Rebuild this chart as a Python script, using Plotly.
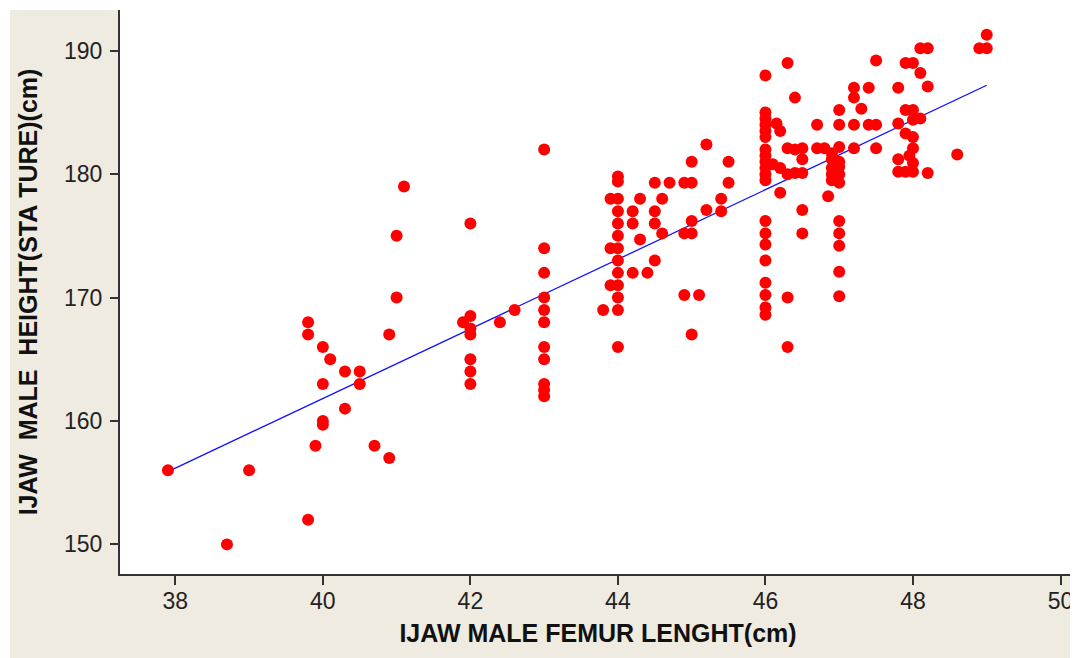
import plotly.graph_objects as go

# ---- data ----
femur = [
    37.9, 38.7, 39.0, 39.8, 39.9, 40.0, 40.0, 40.3, 40.0, 40.3, 40.5, 40.5, 40.1, 40.0, 39.8, 39.8,
    40.7, 40.9, 40.9, 41.0, 41.0, 41.1,
    42.0, 42.0, 41.9, 42.0, 42.0, 42.0, 42.0, 42.0, 42.4, 42.6,
    43.0, 43.0, 43.0, 43.0, 43.0, 43.0, 43.0, 43.0, 43.0, 43.0, 43.0, 43.8,
    44.0, 44.0, 44.0, 44.0, 44.0, 44.0, 44.0, 44.0, 44.0, 44.0, 44.0, 44.0, 44.0,
    43.9, 43.9, 43.9, 44.2, 44.2, 44.2, 44.3, 44.3, 44.4,
    44.5, 44.5, 44.5, 44.5, 44.6, 44.6, 44.7,
    44.9, 44.9, 44.9, 45.0, 45.0, 45.0, 45.0, 45.0, 45.1,
    45.2, 45.2, 45.4, 45.4, 45.5, 45.5,
    46.0, 46.0, 46.0, 46.0, 46.0, 46.0, 46.0, 46.0, 46.0, 46.0, 46.0, 46.0,
    46.0, 46.0, 46.0, 46.0, 46.0, 46.0, 46.0, 46.0,
    46.15, 46.2, 46.1, 46.2, 46.3, 46.3, 46.4, 46.2, 46.3, 46.3, 46.3,
    46.4, 46.5, 46.5, 46.5, 46.4, 46.5, 46.5,
    46.7, 46.7, 46.8, 46.9, 46.9, 46.9, 46.9, 46.9, 46.85,
    47.0, 47.0, 47.0, 47.0, 47.0, 47.0, 47.0,
    47.0, 47.0, 47.0, 47.0, 47.0,
    47.2, 47.4, 47.2, 47.3, 47.2, 47.4, 47.5, 47.2, 47.5, 47.5,
    47.8, 47.9, 48.0, 48.1, 48.2, 48.1, 48.2,
    47.8, 47.9, 48.0, 48.0, 48.1, 47.9, 48.0, 48.0, 47.95, 47.8, 48.0,
    47.8, 47.9, 48.0, 48.2,
    48.6, 49.0, 48.9, 49.0,
]
stature = [
    156, 150, 156, 152, 158, 160, 159.7, 161, 163, 164, 164, 163, 165, 166, 167, 168,
    158, 157, 167, 170, 175, 179,
    176, 168.5, 168, 167.5, 167, 165, 164, 163, 168, 169,
    182, 174, 172, 170, 169, 168, 166, 165, 163, 162.5, 162, 169,
    179.8, 179.4, 178, 177, 176, 175, 174, 173, 172, 171, 170, 169, 166,
    178, 174, 171, 177, 176, 172, 178, 174.7, 172,
    179.3, 177, 176, 173, 178, 175.2, 179.3,
    179.3, 175.2, 170.2, 181, 179.3, 176.2, 175.2, 167, 170.2,
    182.4, 177.1, 178, 177, 181, 179.3,
    188, 185, 184.5, 184, 183.5, 183, 182, 181.5, 181, 180.5, 180, 179.5,
    176.2, 175.2, 174.3, 173, 171.2, 170.2, 169.2, 168.6,
    184.1, 183.5, 180.8, 180.5, 180, 182.1, 186.2, 178.5, 170, 166, 189,
    180.1, 182.1, 181.2, 180.1, 182, 177.1, 175.2,
    184, 182.1, 182.1, 181.7, 181.2, 180.5, 180, 179.5, 178.2,
    185.2, 184, 182.2, 181, 180.6, 180, 179.3,
    176.2, 175.2, 174.2, 172.1, 170.1,
    187, 187, 186.2, 185.3, 184, 184, 184, 182.1, 182.1, 189.2,
    187, 189, 189, 190.2, 190.2, 188.2, 187.1,
    184.1, 185.2, 185.2, 184.4, 184.5, 183.3, 183, 182.1, 181.5, 181.2, 180.9,
    180.2, 180.2, 180.2, 180.1,
    181.6, 191.3, 190.2, 190.2,
]
fit_x = [37.9, 49.0]
fit_y = [155.9, 187.2]

x_ticks = [38, 40, 42, 44, 46, 48, 50]
y_ticks = [150, 160, 170, 180, 190]
x_title = "IJAW MALE FEMUR LENGHT(cm)"
y_title = "IJAW\u00a0\u00a0MALE\u00a0\u00a0HEIGHT(STA\u00a0TURE)(cm)"

# ---- layout geometry (page body adds an 8px white margin top/left) ----
W, H = 1070, 650
ML, MR, MT, MB = 112, 2, 2, 84
PW, PH = W - ML - MR, H - MT - MB

FONT = "Liberation Sans, Arial, sans-serif"

fig = go.Figure()
fig.add_trace(go.Scatter(x=fit_x, y=fit_y, mode="lines",
                         line=dict(color="#1010ff", width=1.3),
                         showlegend=False, hoverinfo="skip"))
fig.add_trace(go.Scatter(x=femur, y=stature, mode="markers",
                         marker=dict(color="#ff0000", size=12, line=dict(width=0)),
                         showlegend=False))

axis_common = dict(
    showgrid=False, zeroline=False, showline=True, linecolor="#333333", linewidth=2,
    ticks="outside", tickcolor="#333333", tickwidth=1.5, automargin=False,
    tickfont=dict(family=FONT, size=23, color="#222222"),
)

fig.update_layout(
    width=W, height=H,
    margin=dict(l=ML, r=MR, t=MT, b=MB, pad=0),
    paper_bgcolor="#efebe0",
    plot_bgcolor="#ffffff",
    xaxis=dict(range=[37.25, 50.21], tickvals=x_ticks, ticklen=9, ticklabelstandoff=-4,
               title=dict(text=x_title, standoff=12,
                          font=dict(family=FONT, size=25, color="#111111", weight="bold")),
               **axis_common),
    yaxis=dict(range=[147.6, 193.3], tickvals=y_ticks, ticklen=8, mirror=True,
               ticklabelstandoff=3,
               title=dict(text=y_title, standoff=19,
                          font=dict(family=FONT, size=25, color="#111111", weight="bold")),
               **axis_common),
    shapes=[
        dict(type="rect", xref="paper", yref="paper", layer="below",
             x0=-ML / PW - 0.01, x1=(2 - ML) / PW, y0=-MB / PH - 0.01, y1=1 + MT / PH + 0.01,
             fillcolor="#ffffff", line=dict(width=0)),
        dict(type="rect", xref="paper", yref="paper", layer="below",
             x0=-ML / PW - 0.01, x1=1 + MR / PW + 0.01, y0=1, y1=1 + MT / PH + 0.01,
             fillcolor="#ffffff", line=dict(width=0)),
    ],
)

fig.write_html("out.html")
